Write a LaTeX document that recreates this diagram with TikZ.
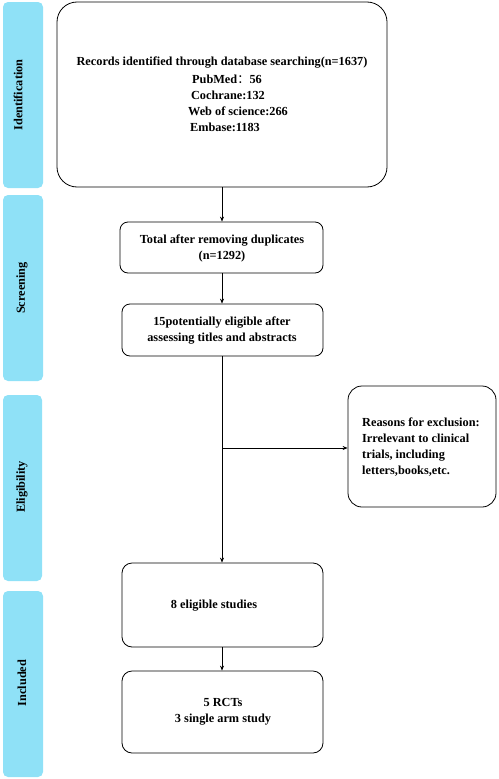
\documentclass[tikz,border=0pt]{standalone}
\usepackage{fontspec}
\setmainfont{Liberation Serif}
\newfontfamily\cjk{Noto Sans CJK SC}
\usetikzlibrary{arrows.meta}
\definecolor{barblue}{HTML}{8FE1F7}
\tikzset{
  x=1pt, y=-1pt,
  bar/.style={fill=barblue, draw=none, rounded corners=5pt},
  barlabel/.style={rotate=90, font=\bfseries\fontsize{12.3}{14}\selectfont, inner sep=0pt},
  box/.style={draw=black, line width=0.8pt, fill=white},
  txt/.style={font=\bfseries\fontsize{12.3}{16}\selectfont, inner sep=0pt},
  arr/.style={-{Stealth[length=5pt,width=4pt]}, line width=0.7pt},
}
\begin{document}
\begin{tikzpicture}
\useasboundingbox (0,0) rectangle (498,779);
% side bars
\fill[bar] (3,2) rectangle (43,188);
\fill[bar] (3,195) rectangle (43,381);
\fill[bar] (3,395) rectangle (42,581);
\fill[bar] (3,591) rectangle (43,777);
\node[barlabel] (lid) at (18,95) {Identification};
\node[barlabel] (lsc) at (22,288) {Screening};
\node[barlabel] (lel) at (22,487) {Eligibility};
\node[barlabel] (lin) at (22,683) {Included};
% boxes
\draw[box, rounded corners=20pt] (57,2) rectangle (387,187);
\node[box, rounded corners=8pt, minimum width=203pt, minimum height=51pt] (b2) at (221.5,247.5) {};
\node[box, rounded corners=8pt, minimum width=201pt, minimum height=52pt] (b3) at (222.5,330) {};
\node[box, rounded corners=14pt, minimum width=148pt, minimum height=121pt] (b5) at (422,446.5) {};
\node[box, rounded corners=10pt, minimum width=201pt, minimum height=84pt] (b4) at (222.5,605) {};
\node[box, rounded corners=10pt, minimum width=201pt, minimum height=82pt] (b6) at (222.5,712) {};
\coordinate (b1s) at (222,187);
% texts
\node[txt] (t1a) at (222,63) {Records identified through database searching(n=1637)};
\node[txt] (t1b) at (227,79) {PubMed{\cjk\mdseries ：}56};
\node[txt] (t1c) at (228,95) {Cochrane:132};
\node[txt] (t1d) at (238,111) {Web of science:266};
\node[txt] (t1e) at (225,127) {Embase:1183};
\node[txt, align=center] (t2) at (222,248) {Total after removing duplicates\\(n=1292)};
\node[txt, align=center] (t3) at (222,331) {15potentially eligible after\\assessing titles and abstracts};
\node[txt, align=left, anchor=west] (t5) at (362,447) {Reasons for exclusion:\\Irrelevant to clinical\\trials, including\\letters,books,etc.};
\node[txt] (t4) at (214,606) {8 eligible studies};
\node[txt, align=center] (t6) at (223,712) {5 RCTs\\3 single arm study};
% connectors
\draw[arr] (b1s) -- (b1s |- b2.north);
\draw[arr] (b2.south -| b1s) -- (b3.north -| b1s);
\draw[arr] (b3.south -| b1s) -- (b4.north -| b1s);
\coordinate (br) at (222,448);
\draw[arr] (br) -- (br -| b5.west);
\draw[arr] (b4.south -| b1s) -- (b6.north -| b1s);
\end{tikzpicture}
\end{document}
